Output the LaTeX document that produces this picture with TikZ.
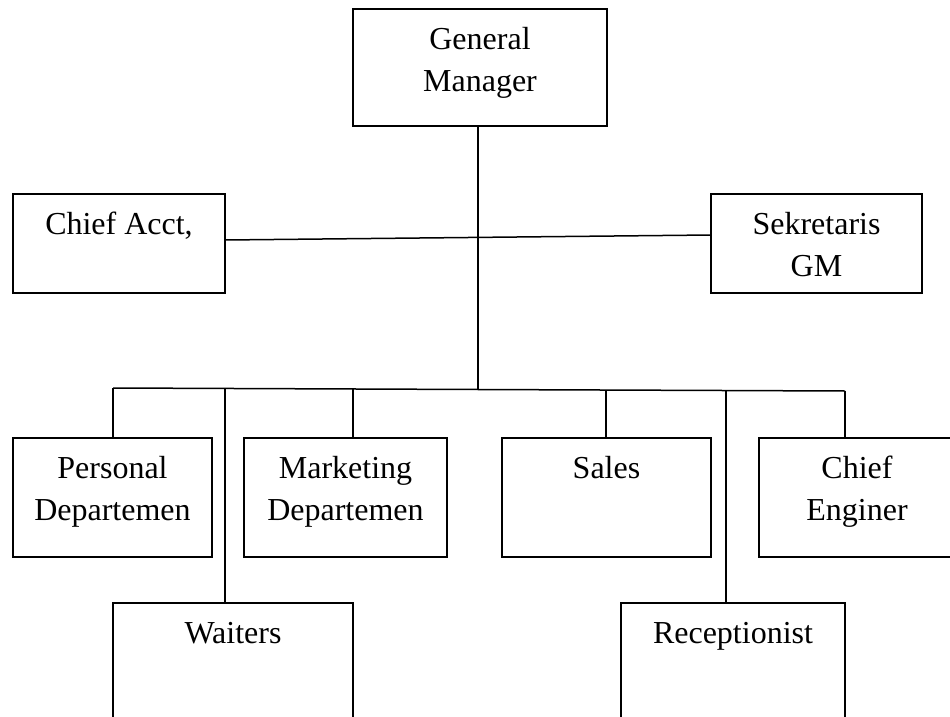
\documentclass[tikz,border=0pt]{standalone}
\usepackage{fontspec}
\setmainfont{Liberation Serif}
\newcommand{\bxt}[3]{\parbox[c][#2][t]{#1}{\centering\rule{0pt}{40pt}#3\par}}
\begin{document}
\begin{tikzpicture}[x=1pt,y=-1pt,
  box/.style={draw,line width=1.5pt,inner sep=0pt,outer sep=0pt,
    font=\fontsize{32pt}{42pt}\selectfont},
  ln/.style={line width=1.5pt}]
\useasboundingbox (0,0) rectangle (950,717);
% boxes
\node[box] (gm) at (480,67.5)  {\bxt{254pt}{117pt}{General\\Manager}};
\node[box] (ca) at (119,243.5) {\bxt{212pt}{99pt}{Chief Acct,}};
\node[box] (sk) at (816.5,243.5) {\bxt{211pt}{99pt}{Sekretaris\\GM}};
\node[box] (pd) at (112.5,497.5) {\bxt{199pt}{119pt}{Personal\\Departemen}};
\node[box] (md) at (345.5,497.5) {\bxt{203pt}{119pt}{Marketing\\Departemen}};
\node[box] (sa) at (606.5,497.5) {\bxt{209pt}{119pt}{Sales}};
\node[box] (ce) at (857,497.5) {\bxt{196pt}{119pt}{Chief\\Enginer}};
\node[box] (wa) at (233,681.5) {\bxt{240pt}{157pt}{Waiters}};
\node[box] (re) at (733,681.5) {\bxt{224pt}{157pt}{Receptionist}};
% bus taps
\coordinate (t1) at (113,388);
\coordinate (t2) at (225,388.5);
\coordinate (t3) at (353,389);
\coordinate (t4) at (478,389.5);
\coordinate (t5) at (606,390);
\coordinate (t6) at (726,390.5);
\coordinate (t7) at (845,391);
% connectors
\draw[ln] (gm.south -| t4) -- (t4);
\draw[ln] ([yshift=3.5pt]ca.east) -- ([yshift=8.5pt]sk.west);
\draw[ln] (t1) -- (t7);
\draw[ln] (t1) -- (t1 |- pd.north);
\draw[ln] (t2) -- (t2 |- wa.north);
\draw[ln] (t3) -- (t3 |- md.north);
\draw[ln] (t5) -- (t5 |- sa.north);
\draw[ln] (t6) -- (t6 |- re.north);
\draw[ln] (t7) -- (t7 |- ce.north);
\end{tikzpicture}
\end{document}
